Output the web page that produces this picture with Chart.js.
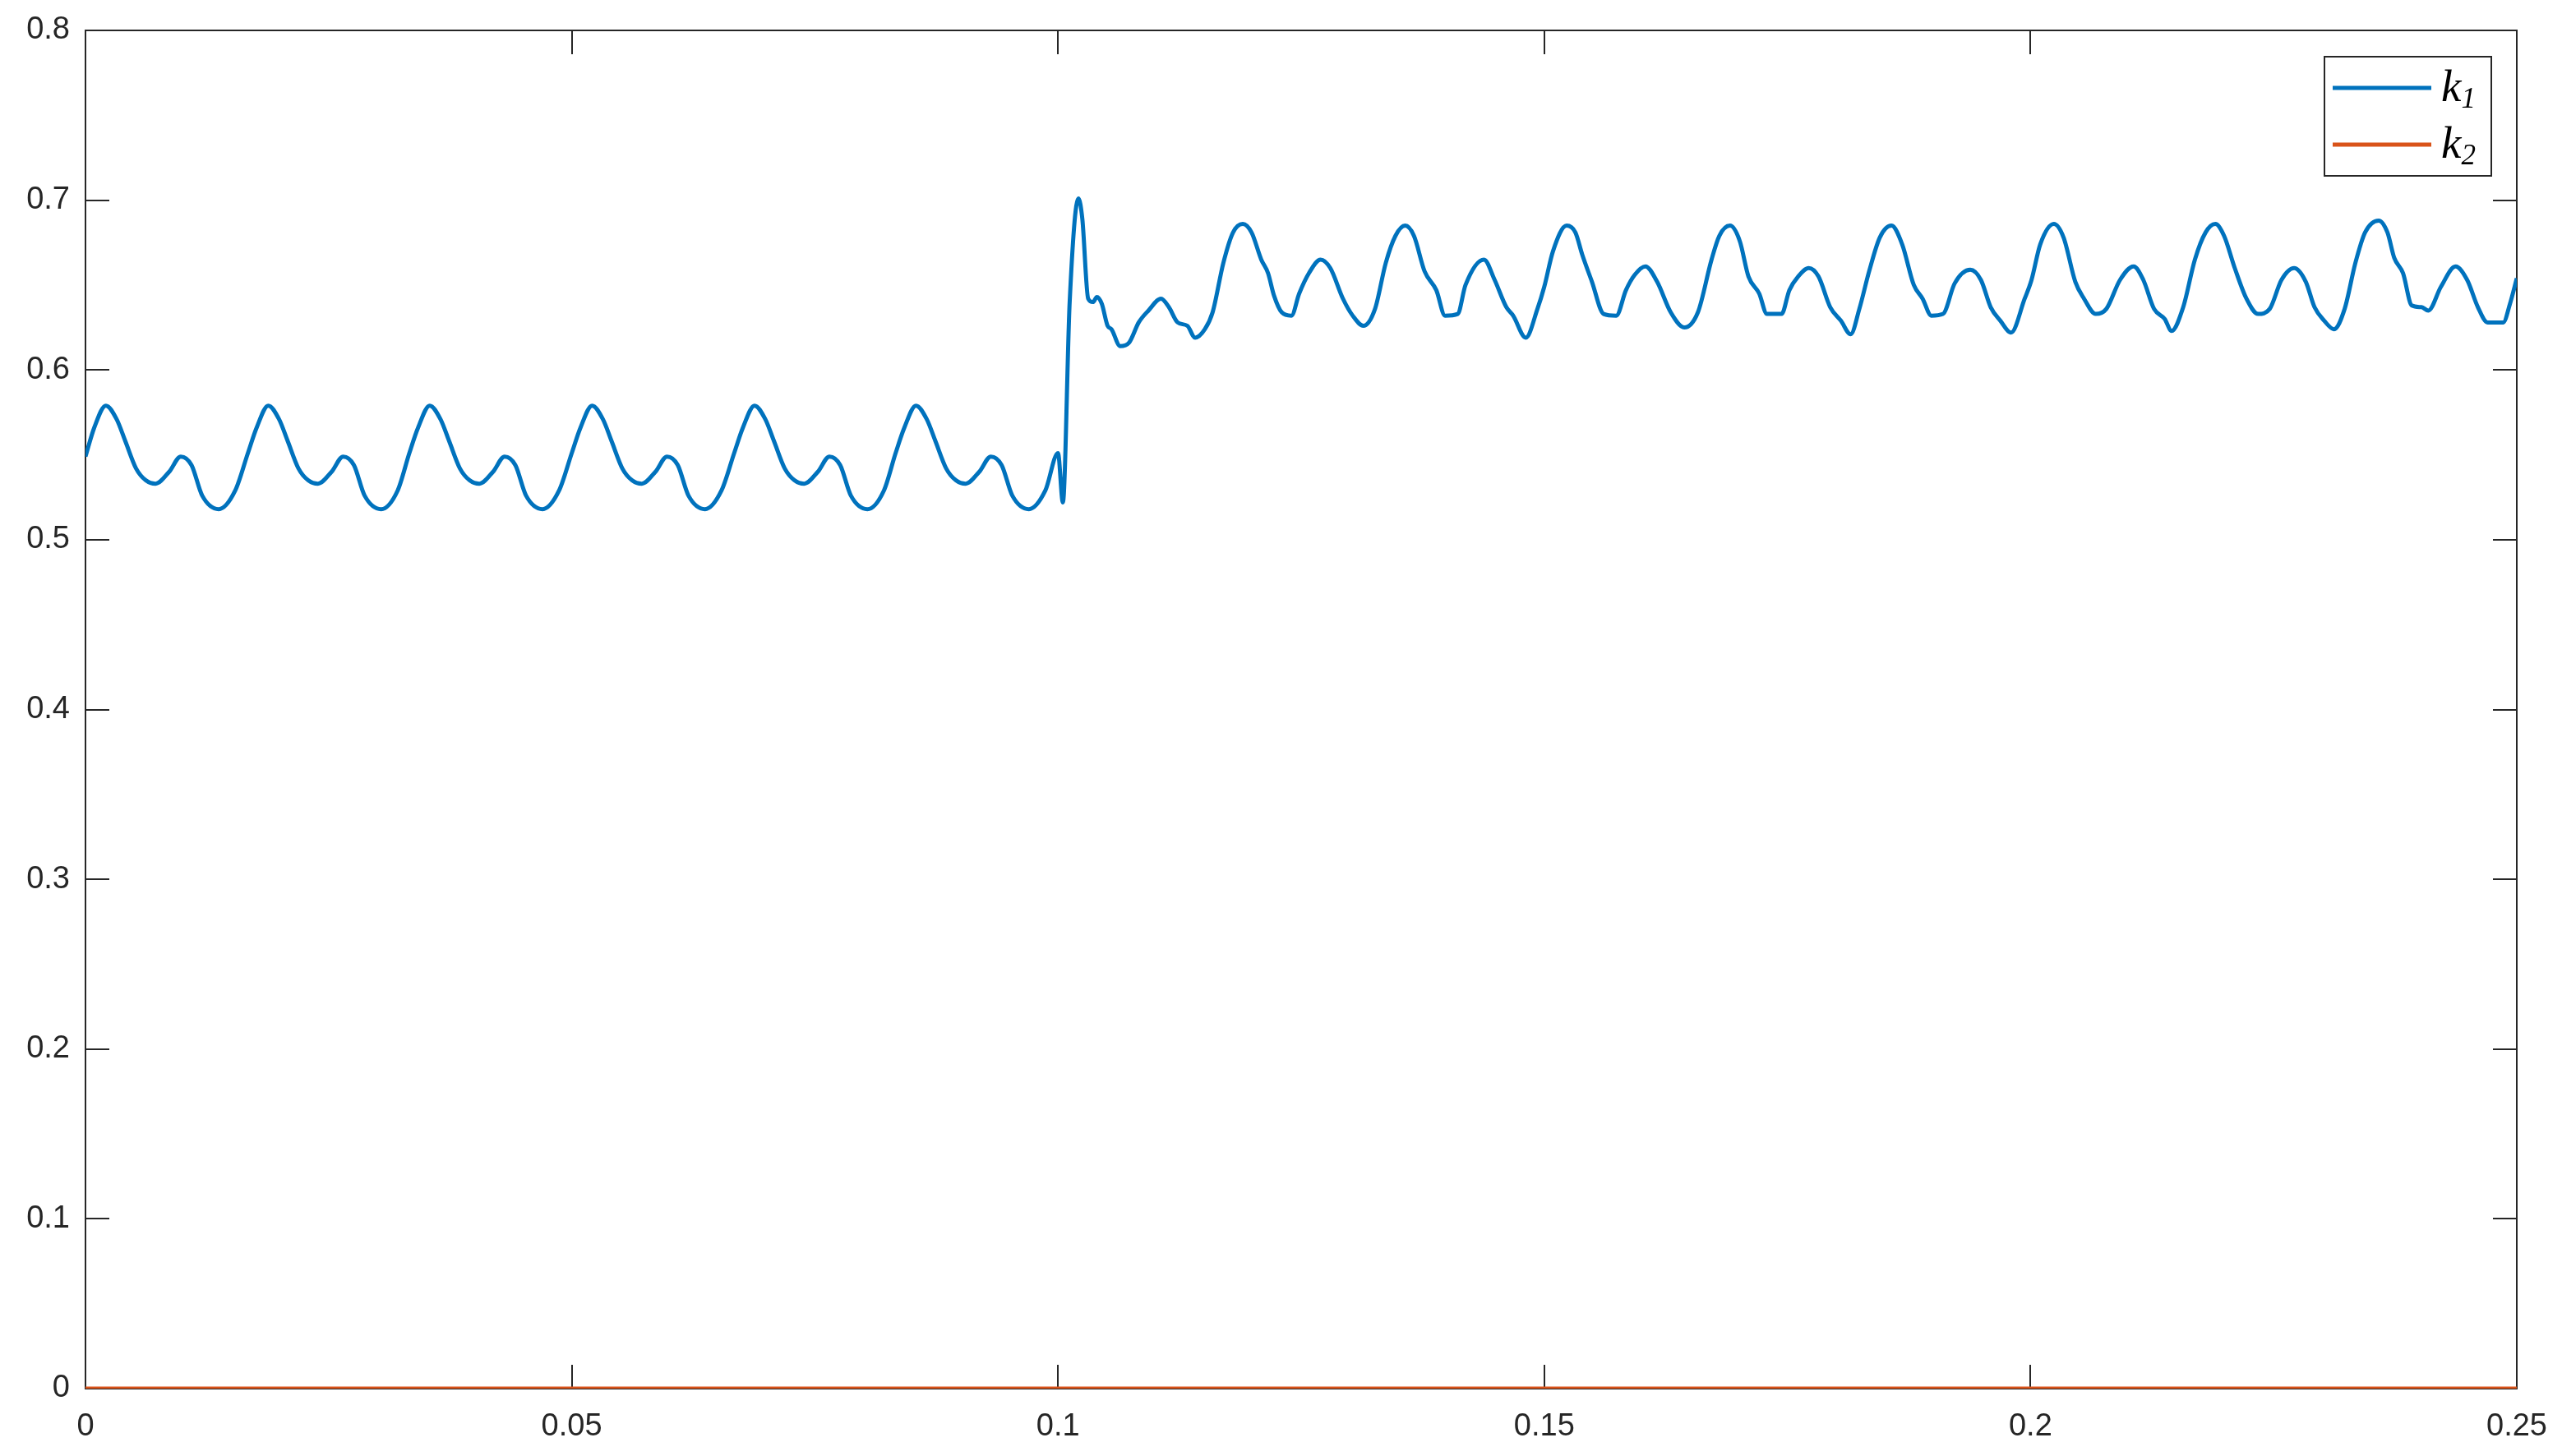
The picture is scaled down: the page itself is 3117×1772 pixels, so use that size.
<!DOCTYPE html>
<html>
<head>
<meta charset="utf-8">
<script src="https://cdn.jsdelivr.net/npm/chart.js@4.4.1/dist/chart.umd.min.js"></script>
<style>
  html, body { margin: 0; padding: 0; background: #ffffff; }
  #wrap { width: 3117px; height: 1772px; }
</style>
</head>
<body>
<div id="wrap"><canvas id="myChart" width="3117" height="1772"></canvas></div>
<script>
// time axis (s) and k1 values
const k1Time = [
    0.0000, 0.0009, 0.0021, 0.0032, 0.0041, 0.0052, 0.0062, 0.0072, 0.0086, 0.0098, 0.0109, 0.0120, 0.0137, 0.0154,
    0.0167, 0.0176, 0.0188, 0.0199, 0.0208, 0.0219, 0.0229, 0.0239, 0.0253, 0.0265, 0.0276, 0.0287, 0.0304, 0.0321,
    0.0333, 0.0342, 0.0354, 0.0365, 0.0374, 0.0385, 0.0395, 0.0405, 0.0419, 0.0431, 0.0442, 0.0453, 0.0470, 0.0487,
    0.0500, 0.0509, 0.0521, 0.0532, 0.0541, 0.0552, 0.0562, 0.0572, 0.0586, 0.0598, 0.0609, 0.0620, 0.0637, 0.0654,
    0.0667, 0.0676, 0.0688, 0.0699, 0.0708, 0.0719, 0.0729, 0.0739, 0.0753, 0.0765, 0.0776, 0.0787, 0.0804, 0.0821,
    0.0833, 0.0842, 0.0854, 0.0865, 0.0874, 0.0885, 0.0895, 0.0905, 0.0919, 0.0931, 0.0942, 0.0953, 0.0970, 0.0987,
    0.1000, 0.1005, 0.1012, 0.1021, 0.1025, 0.1031, 0.1036, 0.1040, 0.1045, 0.1051, 0.1055, 0.1064, 0.1073, 0.1083,
    0.1093, 0.1106, 0.1114, 0.1123, 0.1133, 0.1141, 0.1151, 0.1159, 0.1170, 0.1180, 0.1190, 0.1199, 0.1209, 0.1216,
    0.1222, 0.1230, 0.1240, 0.1248, 0.1258, 0.1270, 0.1280, 0.1293, 0.1303, 0.1314, 0.1326, 0.1337, 0.1347, 0.1357,
    0.1366, 0.1377, 0.1389, 0.1398, 0.1411, 0.1419, 0.1438, 0.1449, 0.1461, 0.1468, 0.1481, 0.1493, 0.1500, 0.1509,
    0.1523, 0.1532, 0.1539, 0.1549, 0.1561, 0.1574, 0.1584, 0.1593, 0.1604, 0.1616, 0.1630, 0.1644, 0.1658, 0.1672,
    0.1680, 0.1691, 0.1701, 0.1710, 0.1721, 0.1729, 0.1744, 0.1752, 0.1761, 0.1772, 0.1782, 0.1794, 0.1805, 0.1815,
    0.1824, 0.1834, 0.1845, 0.1857, 0.1868, 0.1880, 0.1889, 0.1898, 0.1910, 0.1922, 0.1938, 0.1949, 0.1959, 0.1969,
    0.1980, 0.1994, 0.2001, 0.2010, 0.2024, 0.2034, 0.2046, 0.2055, 0.2067, 0.2078, 0.2092, 0.2106, 0.2116, 0.2127,
    0.2138, 0.2145, 0.2157, 0.2169, 0.2180, 0.2190, 0.2199, 0.2210, 0.2222, 0.2234, 0.2246, 0.2258, 0.2271, 0.2283,
    0.2292, 0.2302, 0.2312, 0.2323, 0.2334, 0.2344, 0.2358, 0.2367, 0.2374, 0.2383, 0.2392, 0.2402, 0.2409, 0.2422,
    0.2437, 0.2449, 0.2460, 0.2470, 0.2486, 0.2493, 0.2500
];
const k1Values = [
    0.549, 0.566, 0.579, 0.571, 0.558, 0.542, 0.535, 0.533, 0.540, 0.549, 0.544, 0.526, 0.518, 0.529,
    0.551, 0.566, 0.579, 0.571, 0.558, 0.542, 0.535, 0.533, 0.540, 0.549, 0.544, 0.526, 0.518, 0.529,
    0.551, 0.566, 0.579, 0.571, 0.558, 0.542, 0.535, 0.533, 0.540, 0.549, 0.544, 0.526, 0.518, 0.529,
    0.551, 0.566, 0.579, 0.571, 0.558, 0.542, 0.535, 0.533, 0.540, 0.549, 0.544, 0.526, 0.518, 0.529,
    0.551, 0.566, 0.579, 0.571, 0.558, 0.542, 0.535, 0.533, 0.540, 0.549, 0.544, 0.526, 0.518, 0.529,
    0.551, 0.566, 0.579, 0.571, 0.558, 0.542, 0.535, 0.533, 0.540, 0.549, 0.544, 0.526, 0.518, 0.529,
    0.551, 0.522, 0.640, 0.701, 0.689, 0.642, 0.640, 0.643, 0.639, 0.626, 0.624, 0.614, 0.616, 0.628,
    0.635, 0.642, 0.637, 0.628, 0.626, 0.619, 0.624, 0.634, 0.663, 0.681, 0.686, 0.681, 0.665, 0.657,
    0.644, 0.634, 0.632, 0.645, 0.657, 0.665, 0.660, 0.642, 0.632, 0.626, 0.636, 0.663, 0.679, 0.685,
    0.679, 0.658, 0.647, 0.632, 0.633, 0.650, 0.665, 0.653, 0.637, 0.632, 0.619, 0.636, 0.649, 0.670,
    0.685, 0.681, 0.668, 0.652, 0.633, 0.632, 0.647, 0.656, 0.661, 0.652, 0.634, 0.625, 0.634, 0.665,
    0.679, 0.685, 0.676, 0.655, 0.645, 0.633, 0.633, 0.647, 0.655, 0.660, 0.655, 0.637, 0.629, 0.621,
    0.636, 0.658, 0.678, 0.685, 0.674, 0.650, 0.642, 0.632, 0.633, 0.651, 0.659, 0.653, 0.637, 0.629,
    0.622, 0.642, 0.653, 0.674, 0.686, 0.678, 0.652, 0.642, 0.633, 0.636, 0.653, 0.661, 0.653, 0.636,
    0.630, 0.623, 0.637, 0.665, 0.681, 0.686, 0.679, 0.660, 0.642, 0.633, 0.636, 0.653, 0.660, 0.652,
    0.637, 0.629, 0.624, 0.636, 0.663, 0.681, 0.688, 0.681, 0.666, 0.657, 0.638, 0.637, 0.635, 0.649,
    0.661, 0.653, 0.637, 0.628, 0.628, 0.639, 0.654
];
// k2 stays at zero over the whole run
const k2Time = [0, 0.25];
const k2Values = [0, 0];

const xTicks = [0, 0.05, 0.1, 0.15, 0.2, 0.25];
const xTickLabels = ['0', '0.05', '0.1', '0.15', '0.2', '0.25'];
const yTicks = [0, 0.1, 0.2, 0.3, 0.4, 0.5, 0.6, 0.7, 0.8];
const yTickLabels = ['0', '0.1', '0.2', '0.3', '0.4', '0.5', '0.6', '0.7', '0.8'];

const seriesNames = ['k', 'k'];
const seriesSubs = ['1', '2'];
const blue = '#0072BD';
const orange = '#D95319';
const axisColor = '#262626';

const k1Points = k1Time.map((t, i) => ({ x: t, y: k1Values[i] }));
const k2Points = k2Time.map((t, i) => ({ x: t, y: k2Values[i] }));

// matlab style box with inward ticks on all four sides
const boxTicks = {
    id: 'boxTicks',
    beforeDatasetsDraw(chart) {
        const ctx = chart.ctx;
        const a = chart.chartArea;
        const xs = chart.scales.x;
        const ys = chart.scales.y;
        const len = 29;
        ctx.save();
        ctx.strokeStyle = axisColor;
        ctx.lineWidth = 2;
        ctx.strokeRect(a.left, a.top, a.right - a.left, a.bottom - a.top);
        ctx.beginPath();
        xs.ticks.forEach(t => {
            const px = Math.round(xs.getPixelForValue(t.value));
            ctx.moveTo(px, a.bottom); ctx.lineTo(px, a.bottom - len);
            ctx.moveTo(px, a.top); ctx.lineTo(px, a.top + len);
        });
        ys.ticks.forEach(t => {
            const py = Math.round(ys.getPixelForValue(t.value));
            ctx.moveTo(a.left, py); ctx.lineTo(a.left + len, py);
            ctx.moveTo(a.right, py); ctx.lineTo(a.right - len, py);
        });
        ctx.stroke();
        ctx.restore();
    }
};

// legend box in the top right corner, k with a subscript
const cornerLegend = {
    id: 'cornerLegend',
    afterDatasetsDraw(chart) {
        const ctx = chart.ctx;
        const a = chart.chartArea;
        const boxRight = a.right - 31;
        const boxLeft = boxRight - 203;
        const boxTop = a.top + 32;
        const boxBottom = boxTop + 145;
        ctx.save();
        ctx.fillStyle = '#ffffff';
        ctx.fillRect(boxLeft, boxTop, boxRight - boxLeft, boxBottom - boxTop);
        ctx.strokeStyle = axisColor;
        ctx.lineWidth = 2;
        ctx.strokeRect(boxLeft, boxTop, boxRight - boxLeft, boxBottom - boxTop);
        chart.data.datasets.forEach((ds, i) => {
            const cy = boxTop + 38 + i * 69;
            ctx.strokeStyle = ds.borderColor;
            ctx.lineWidth = 5;
            ctx.beginPath();
            ctx.moveTo(boxLeft + 10, cy);
            ctx.lineTo(boxLeft + 130, cy);
            ctx.stroke();
            ctx.fillStyle = '#000000';
            ctx.textBaseline = 'alphabetic';
            ctx.textAlign = 'left';
            ctx.font = 'italic 55px "Liberation Serif"';
            const tx = boxLeft + 142;
            ctx.fillText(seriesNames[i], tx, cy + 16);
            const w = ctx.measureText(seriesNames[i]).width;
            ctx.font = 'italic 35px "Liberation Serif"';
            ctx.fillText(seriesSubs[i], tx + w, cy + 24);
        });
        ctx.restore();
    }
};

const ctx = document.getElementById('myChart').getContext('2d');

const myChart = new Chart(ctx, {
    type: 'line',
    data: {
        datasets: [{
            label: 'k1',
            data: k1Points,
            borderColor: blue,
            backgroundColor: blue,
            borderWidth: 5,
            pointRadius: 0,
            cubicInterpolationMode: 'monotone',
            fill: false
        }, {
            label: 'k2',
            data: k2Points,
            borderColor: orange,
            backgroundColor: orange,
            borderWidth: 5,
            pointRadius: 0,
            tension: 0,
            fill: false
        }]
    },
    options: {
        responsive: false,
        animation: false,
        devicePixelRatio: 1,
        layout: { padding: { left: 0, right: 55, top: 37, bottom: 0 } },
        plugins: {
            legend: { display: false },
            tooltip: { enabled: false }
        },
        scales: {
            x: {
                type: 'linear',
                min: 0,
                max: 0.25,
                afterBuildTicks: (scale) => { scale.ticks = xTicks.map(v => ({ value: v })); },
                afterFit: (scale) => {
                    scale.height = 82;
                    // keep the plot box where it is in the picture
                    scale.paddingLeft = 0;
                    scale.paddingRight = 0;
                },
                grid: { display: false, drawTicks: false },
                border: { display: false },
                ticks: {
                    autoSkip: false,
                    maxRotation: 0,
                    padding: 24,
                    color: axisColor,
                    font: { family: '"Liberation Sans", Arial, sans-serif', size: 38 },
                    callback: (value, index) => xTickLabels[index]
                }
            },
            y: {
                type: 'linear',
                min: 0,
                max: 0.8,
                afterBuildTicks: (scale) => { scale.ticks = yTicks.map(v => ({ value: v })); },
                afterFit: (scale) => {
                    scale.width = 104;
                    scale.paddingTop = 0;
                    scale.paddingBottom = 0;
                },
                grid: { display: false, drawTicks: false },
                border: { display: false },
                ticks: {
                    autoSkip: false,
                    padding: 19,
                    color: axisColor,
                    font: { family: '"Liberation Sans", Arial, sans-serif', size: 38 },
                    callback: (value, index) => yTickLabels[index]
                }
            }
        }
    },
    plugins: [boxTicks, cornerLegend]
});
</script>
</body>
</html>
